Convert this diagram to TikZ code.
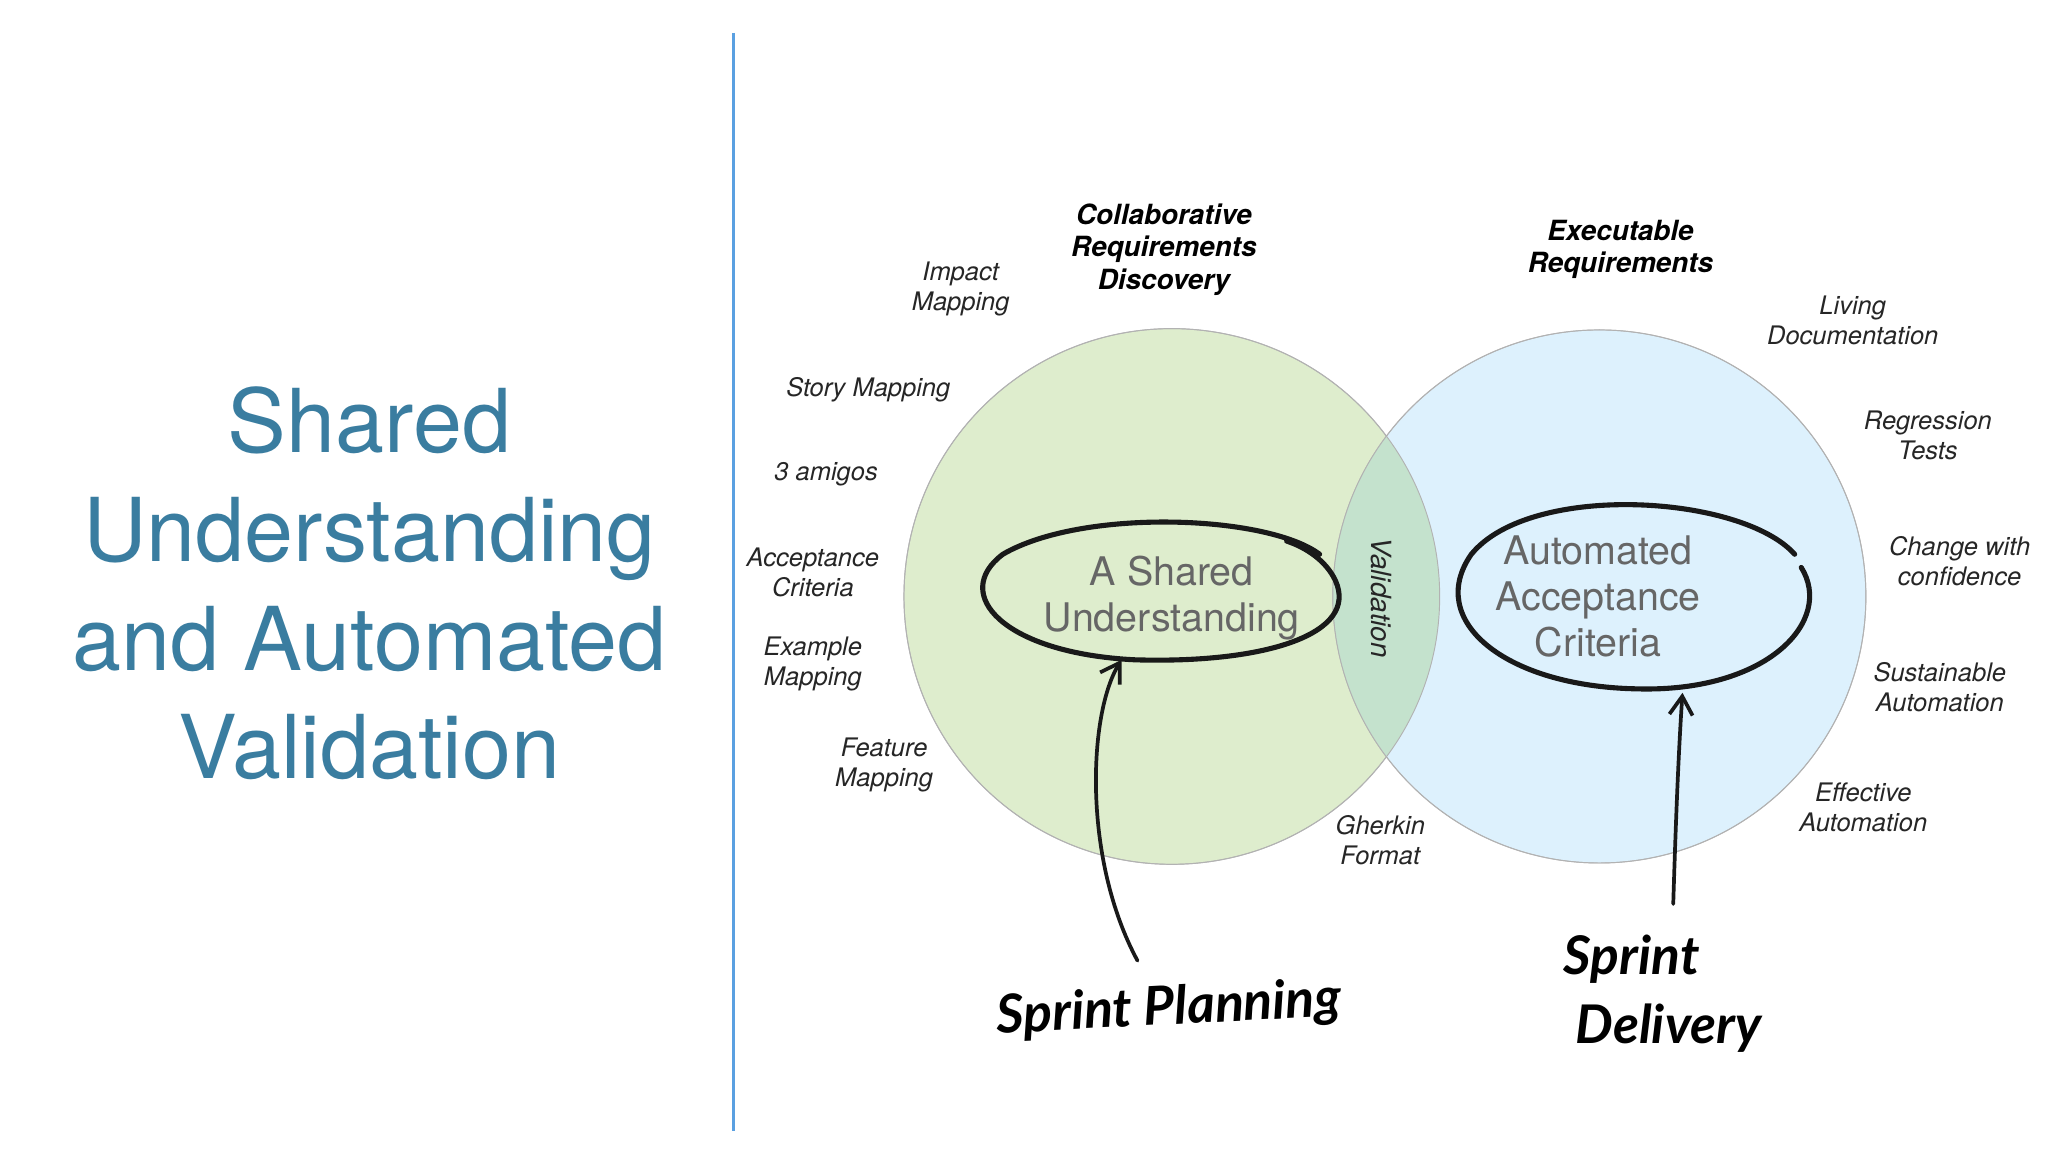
\documentclass[tikz,border=0pt]{standalone}
\usepackage{fontspec}
\usetikzlibrary{arrows.meta}
\setmainfont{TeX Gyre Heros}
\newfontfamily\hand{Lato}
\definecolor{titleblue}{RGB}{58,125,160}
\definecolor{lineblue}{RGB}{90,160,225}
\definecolor{gfill}{RGB}{222,237,205}
\definecolor{bfill}{RGB}{221,241,253}
\definecolor{ifill}{RGB}{196,226,205}
\begin{document}
\begin{tikzpicture}[x=0.02cm,y=-0.02cm,
  lab/.style={font=\itshape\fontsize{11}{13}\selectfont,align=center,text=black!85},
  head/.style={font=\bfseries\itshape\fontsize{12}{14}\selectfont,align=center},
  inner/.style={font=\fontsize{17}{20}\selectfont,align=center,text=black!60},
  pen/.style={line width=2.2pt,black!90,line cap=round},
  handtxt/.style={font=\hand\itshape\bfseries\fontsize{23}{30}\selectfont,align=left}]
\useasboundingbox[fill=white] (0,0) rectangle (1552,873);
\draw[lineblue,line width=1.5pt] (556,25) coordinate (l1) -- (556,857) coordinate (l2);
\node[font=\fontsize{38}{47}\selectfont,text=titleblue,align=center] (title) at (280,442)
 {Shared\\Understanding\\and Automated\\Validation};
% circles
\node[circle,draw=black!30,fill=gfill,minimum size=8.12cm,inner sep=0] (gc) at (888,452) {};
\node[circle,draw=black!30,fill=bfill,minimum size=8.08cm,inner sep=0] (bc) at (1212,452) {};
\begin{scope}
\clip (888,452) circle (203);
\fill[ifill] (1212,452) circle (202);
\end{scope}
\draw[black!30] (888,452) circle (203);
\draw[black!30] (1212,452) circle (202);
% hand ellipses
\draw[pen] (1000,420) .. controls (960,390) and (820,385) .. (760,420)
  .. controls (720,450) and (760,495) .. (860,500)
  .. controls (960,503) and (1030,480) .. (1012,440)
  .. controls (1005,425) and (990,415) .. (975,410);
\draw[pen] (1360,420) .. controls (1320,375) and (1160,365) .. (1115,420)
  .. controls (1080,470) and (1140,520) .. (1240,522)
  .. controls (1340,525) and (1390,470) .. (1365,430);
% arrows
\coordinate (a1s) at (862,728); \coordinate (a1e) at (850,500);
\draw[pen,line width=1.6pt,-{Straight Barb[length=8pt,width=10pt]}] (a1s) .. controls (820,650) and (825,540) .. (a1e);
\coordinate (a2s) at (1268,685); \coordinate (a2e) at (1275,525);
\draw[pen,line width=1.6pt,-{Straight Barb[length=8pt,width=10pt]}] (a2s) .. controls (1270,620) and (1272,570) .. (a2e);
% inner texts
\node[inner] (su) at (888,453) {A Shared\\Understanding};
\node[inner] (aac) at (1211,452) {Automated\\Acceptance\\Criteria};
\node[inner,font=\itshape\fontsize{12}{14}\selectfont,text=black!85,rotate=-90] (val) at (1047,453) {Validation};
% headings
\node[head] (crd) at (882,189) {Collaborative\\Requirements\\Discovery};
\node[head] (er) at (1228,189) {Executable\\Requirements};
% labels
\node[lab] (im) at (728,219) {Impact\\Mapping};
\node[lab] (sm) at (658,295) {Story Mapping};
\node[lab] (am) at (626,359) {3 amigos};
\node[lab] (ac) at (616,434) {Acceptance\\Criteria};
\node[lab] (em) at (616,503) {Example\\Mapping};
\node[lab] (fm) at (670,580) {Feature\\Mapping};
\node[lab] (gf) at (1046,637) {Gherkin\\Format};
\node[lab] (ld) at (1404,243) {Living\\Documentation};
\node[lab] (rt) at (1461,330) {Regression\\Tests};
\node[lab] (cc) at (1485,425) {Change with\\confidence};
\node[lab] (sa) at (1470,521) {Sustainable\\Automation};
\node[lab] (ea) at (1412,612) {Effective\\Automation};
% handwritten
\node[handtxt,rotate=3] (sp) at (886,765) {Sprint Planning};
\node[handtxt] (sd) at (1260,753) {Sprint\\\ Delivery};
\end{tikzpicture}
\end{document}
